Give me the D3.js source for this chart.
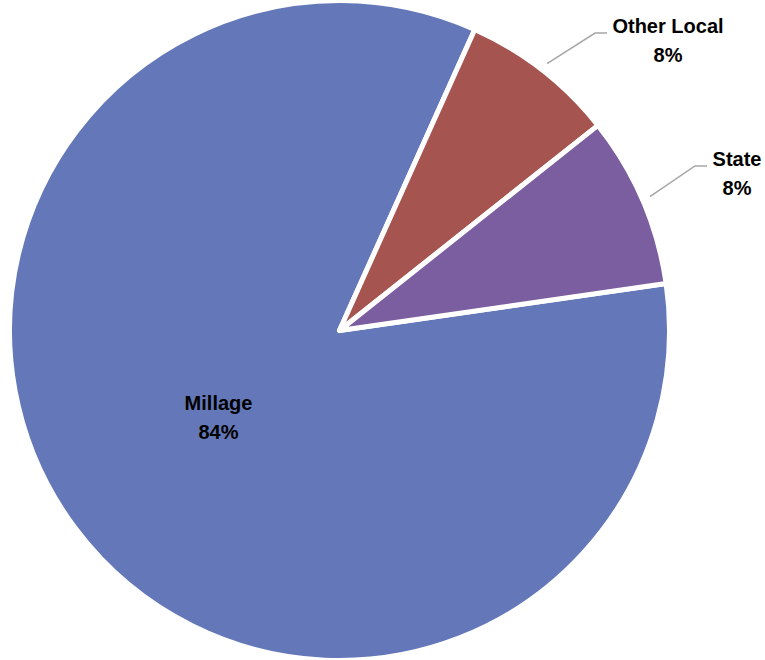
<!DOCTYPE html>
<html>
<head>
<meta charset="utf-8">
<script src="https://cdn.jsdelivr.net/npm/d3@7"></script>
<style>
  html, body { margin: 0; padding: 0; background: #fff; }
  svg { display: block; }
  text { font-family: "Liberation Sans", Arial, sans-serif; font-weight: bold; fill: #000; }
</style>
</head>
<body>
<svg id="chart" width="765" height="660"></svg>
<script>
// Data
const categories = ["Millage", "Other Local", "State"];
const values = [84.0, 7.6, 8.4];
const percentLabels = ["84%", "8%", "8%"];
const colors = ["#6478B9", "#A5544F", "#7B5E9F"];

const W = 765, H = 660;
const cx = 339.5, cy = 330.5, R = 330;
const startDeg = 81.8;

const svg = d3.select("#chart");
const g = svg.append("g").attr("transform", `translate(${cx},${cy})`);

const data = categories.map((c, i) => ({ name: c, value: values[i], pct: percentLabels[i], color: colors[i] }));

const pie = d3.pie().sort(null).value(d => d.value)
  .startAngle(startDeg * Math.PI / 180)
  .endAngle(startDeg * Math.PI / 180 + 2 * Math.PI);
const arcs = pie(data);

const arc = d3.arc().innerRadius(0).outerRadius(R);

g.selectAll("path.slice").data(arcs).enter().append("path")
  .attr("class", "slice")
  .attr("d", arc)
  .attr("fill", d => d.data.color)
  .attr("stroke", "#fff")
  .attr("stroke-width", 5)
  .attr("stroke-linejoin", "round");

// Label layout (relative to pie center)
const labelLayout = {
  "Millage":     { inside: true, x: -121, y: 79 },
  "Other Local": { inside: false, bend: [255.5, -297.5], end: [267.5, -297.5], x: 328.5, y: -297.5 },
  "State":       { inside: false, bend: [355.5, -164.5], end: [367.5, -164.5], x: 397.5, y: -164.5 }
};

const pt = (ang, r) => [Math.sin(ang) * r, -Math.cos(ang) * r];

arcs.forEach(a => {
  const L = labelLayout[a.data.name];
  if (!L.inside) {
    const mid = (a.startAngle + a.endAngle) / 2;
    const p0 = pt(mid, R + 8);
    g.append("polyline")
      .attr("points", [p0, L.bend, L.end].map(p => p.join(",")).join(" "))
      .attr("fill", "none")
      .attr("stroke", "#A6A6A6")
      .attr("stroke-width", 1.5);
  }
  const t = g.append("text")
    .attr("text-anchor", "middle")
    .attr("font-size", 20);
  t.append("tspan").attr("x", L.x).attr("y", L.y).text(a.data.name);
  t.append("tspan").attr("x", L.x).attr("y", L.y + 29).text(a.data.pct);
});
</script>
</body>
</html>
